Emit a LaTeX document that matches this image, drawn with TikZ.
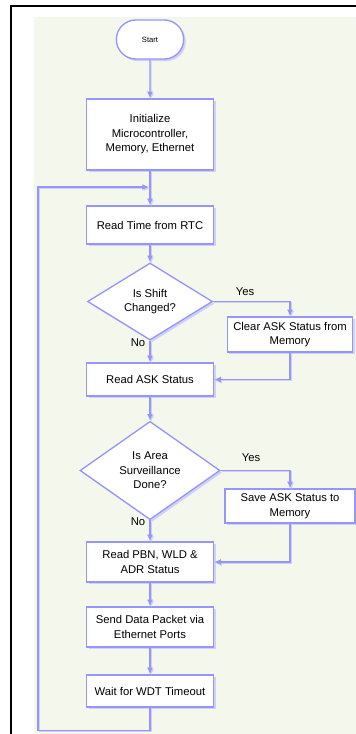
\documentclass[tikz,border=0pt]{standalone}
\usepackage{fontspec}
\setmainfont{Liberation Sans}
\usetikzlibrary{shapes.geometric,shapes.misc,arrows.meta,shadows}
\definecolor{flowline}{RGB}{150,150,250}
\definecolor{flowshade}{RGB}{208,208,250}
\definecolor{flowbg}{RGB}{244,247,236}
\begin{document}
\begin{tikzpicture}[x=.75pt,y=-.75pt,
	box/.style={draw=flowline,line width=1pt,fill=white,align=center,inner sep=1pt,
		font=\fontsize{8.45}{10.9}\selectfont,
		drop shadow={shadow xshift=1.6pt,shadow yshift=-1.6pt,fill=flowshade,opacity=1}},
	proc/.style={box,rectangle,minimum width=95.25pt},
	decision/.style={box,diamond,inner sep=0pt},
	lbl/.style={font=\fontsize{8.45}{10.9}\selectfont},
	flow/.style={draw=flowline,line width=1pt,-{Latex[length=5pt,width=4.5pt]},
		preaction={draw=flowshade,line width=.8pt,transform canvas={xshift=.9pt,yshift=-.9pt}}}]
	\useasboundingbox (0,0) rectangle (355,734);
	\fill[flowbg] (34,17) rectangle (356,735);
	\draw[line width=1.5pt] (356,6) -- (11,6) -- (11,735);
	% nodes
	\node[box,rounded rectangle,minimum width=52.5pt,minimum height=29.25pt,font=\fontsize{5.7}{7}\selectfont] (start) at (150,39.5) {Start};
	\node[proc,minimum height=53.25pt] (init) at (150,134.5) {Initialize\\Microcontroller,\\Memory, Ethernet};
	\node[proc,minimum height=28.5pt] (rtc) at (150,225) {Read Time from RTC};
	\node[decision,minimum width=93.75pt,minimum height=50.25pt] (shift) at (150,301.5) {Is Shift\\Changed?};
	\node[proc,minimum width=94pt,minimum height=26.25pt] (clear) at (290,334.5) {Clear ASK Status from\\Memory};
	\node[proc,minimum height=24.75pt] (readask) at (150,379.5) {Read ASK Status};
	\node[decision,minimum width=105pt,minimum height=72.75pt] (area) at (150,470.5) {Is Area\\Surveillance\\Done?};
	\node[proc,minimum width=97.5pt,minimum height=25.5pt] (save) at (290,506) {Save ASK Status to\\Memory};
	\node[proc,minimum height=30pt] (pbn) at (150,562) {Read PBN, WLD \&\\ADR Status};
	\node[proc,minimum height=30pt] (send) at (150,627) {Send Data Packet via\\Ethernet Ports};
	\node[proc,minimum height=24pt] (wait) at (150,691) {Wait for WDT Timeout};
	\coordinate (loopin) at (149,187);
	% labels
	\node[lbl] (yes1) at (245,292) {Yes};
	\node[lbl] (no1) at (138,343) {No};
	\node[lbl] (yes2) at (251,458) {Yes};
	\node[lbl] (no2) at (138,522) {No};
	% connectors
	\draw[flow] (start) -- (init);
	\draw[flow] (init) -- (rtc);
	\draw[flow] (rtc) -- (shift);
	\draw[flow] (shift.east) -| (clear.north);
	\draw[flow] (shift) -- (readask);
	\draw[flow] (clear.south) |- (readask.east);
	\draw[flow] (readask) -- (area);
	\draw[flow] (area.east) -| (save.north);
	\draw[flow] (area) -- (pbn);
	\draw[flow] (save.south) |- (pbn.east);
	\draw[flow] (pbn) -- (send);
	\draw[flow] (send) -- (wait);
	\draw[flow] (wait.south) -- ++(0,23) -| (38,187) -- (loopin);
\end{tikzpicture}
\end{document}
